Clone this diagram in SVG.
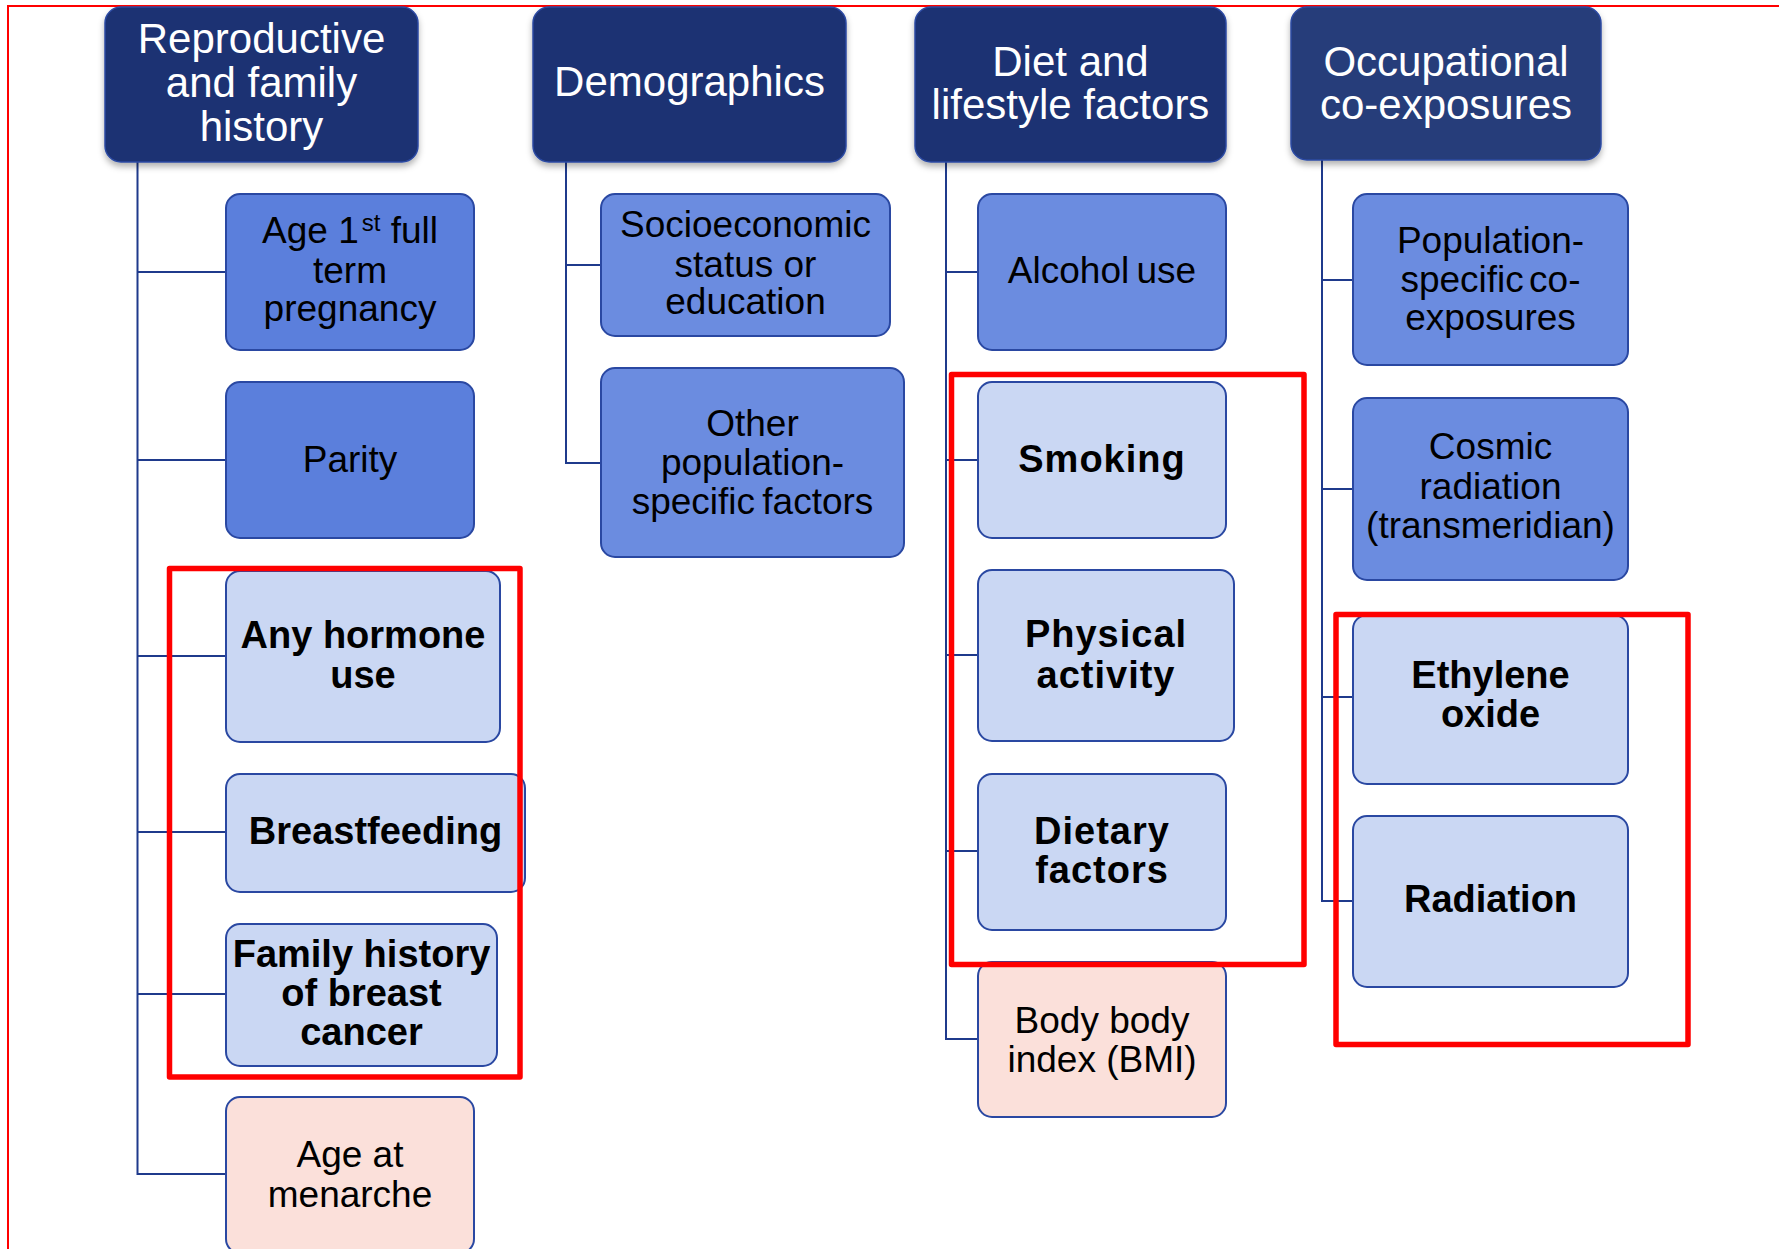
<svg xmlns="http://www.w3.org/2000/svg" width="1779" height="1249" viewBox="0 0 1779 1249">
  <style>
    text { font-family: "Liberation Sans", Arial, sans-serif; text-anchor: middle; }
    .hdr { fill: #1b3173; stroke: #2c4aa3; stroke-width: 1.5; }
    .hdr-alt { fill: #283d7a; stroke: #2c4aa3; stroke-width: 1.5; }
    .htxt { fill: #ffffff; font-size: 42px; }
    .node { stroke: #2a48a2; stroke-width: 2; }
    .mid-dk { fill: #5b7fdc; }
    .mid { fill: #6b8ce0; }
    .light { fill: #cad7f3; }
    .pink { fill: #fbe0da; }
    .ntxt { fill: #000000; font-size: 37px; }
    .btxt { fill: #000000; font-size: 38px; font-weight: bold; }
    .conn { fill: none; stroke: #1f3a8c; stroke-width: 2; }
    .hilite { fill: none; stroke: #ff0000; stroke-width: 5.5; stroke-linejoin: round; }
  </style>
  <defs>
    <filter id="shadow" x="-10%" y="-10%" width="120%" height="130%">
      <feDropShadow dx="0" dy="4" stdDeviation="3" flood-color="#000000" flood-opacity="0.3"/>
    </filter>
  </defs>

  <rect width="1779" height="1249" fill="#ffffff"/>
  <!-- outer frame -->
  <rect x="8" y="6" width="1800" height="1300" fill="none" stroke="#ff0000" stroke-width="2"/>

  <!-- connectors -->
  <g id="connectors">
    <path class="conn" d="M137.5 162 V1174 H226 M137.5 272 H226 M137.5 460 H226 M137.5 656 H226 M137.5 832 H226 M137.5 994 H226"/>
    <path class="conn" d="M566 162 V463 H601 M566 265 H601"/>
    <path class="conn" d="M946 162 V1039 H978 M946 272 H978 M946 460 H978 M946 655 H978 M946 851 H978"/>
    <path class="conn" d="M1322 160 V901 H1353 M1322 280 H1353 M1322 489 H1353 M1322 697 H1353"/>
  </g>

  <!-- category headers -->
  <g id="hdr-reproductive">
    <rect class="hdr" x="105" y="7" width="313" height="155" rx="16" filter="url(#shadow)"/>
    <text class="htxt"><tspan x="261.5" y="53">Reproductive</tspan><tspan x="261.5" y="97">and family</tspan><tspan x="261.5" y="141">history</tspan></text>
  </g>
  <g id="hdr-demographics">
    <rect class="hdr" x="533" y="7" width="313" height="155" rx="16" filter="url(#shadow)"/>
    <text class="htxt" x="689.5" y="96">Demographics</text>
  </g>
  <g id="hdr-diet">
    <rect class="hdr" x="915" y="7" width="311" height="155" rx="16" filter="url(#shadow)"/>
    <text class="htxt"><tspan x="1070.5" y="76">Diet and</tspan><tspan x="1070.5" y="119">lifestyle factors</tspan></text>
  </g>
  <g id="hdr-occupational">
    <rect class="hdr-alt" x="1291" y="7" width="310" height="153" rx="16" filter="url(#shadow)"/>
    <text class="htxt"><tspan x="1446" y="76">Occupational</tspan><tspan x="1446" y="119">co-exposures</tspan></text>
  </g>

  <!-- reproductive and family history -->
  <g id="n-age-first-pregnancy">
    <rect class="node mid-dk" x="226" y="194" width="248" height="156" rx="14"/>
    <text class="ntxt"><tspan x="350" y="243">Age 1<tspan font-size="24" dx="3" dy="-12">st</tspan><tspan dy="12"> full</tspan></tspan><tspan x="350" y="283">term</tspan><tspan x="350" y="321">pregnancy</tspan></text>
  </g>
  <g id="n-parity">
    <rect class="node mid-dk" x="226" y="382" width="248" height="156" rx="14"/>
    <text class="ntxt" x="350" y="472">Parity</text>
  </g>
  <g id="n-hormone-use">
    <rect class="node light" x="226" y="571" width="274" height="171" rx="14"/>
    <text class="btxt"><tspan x="363" y="648">Any hormone</tspan><tspan x="363" y="688">use</tspan></text>
  </g>
  <g id="n-breastfeeding">
    <rect class="node light" x="226" y="774" width="299" height="118" rx="14"/>
    <text class="btxt" x="375.5" y="844">Breastfeeding</text>
  </g>
  <g id="n-family-history">
    <rect class="node light" x="226" y="924" width="271" height="142" rx="14"/>
    <text class="btxt"><tspan x="361.5" y="967">Family history</tspan><tspan x="361.5" y="1006">of breast</tspan><tspan x="361.5" y="1045">cancer</tspan></text>
  </g>
  <g id="n-menarche">
    <rect class="node pink" x="226" y="1097" width="248" height="156" rx="14"/>
    <text class="ntxt"><tspan x="350" y="1167">Age at</tspan><tspan x="350" y="1207">menarche</tspan></text>
  </g>

  <!-- demographics -->
  <g id="n-socioeconomic">
    <rect class="node mid" x="601" y="194" width="289" height="142" rx="14"/>
    <text class="ntxt"><tspan x="745.5" y="237">Socioeconomic</tspan><tspan x="745.5" y="277">status or</tspan><tspan x="745.5" y="314">education</tspan></text>
  </g>
  <g id="n-other-population">
    <rect class="node mid" x="601" y="368" width="303" height="189" rx="14"/>
    <text class="ntxt"><tspan x="752.5" y="436">Other</tspan><tspan x="752.5" y="475">population-</tspan><tspan x="752.5" y="514" word-spacing="-3">specific factors</tspan></text>
  </g>

  <!-- diet and lifestyle -->
  <g id="n-alcohol">
    <rect class="node mid" x="978" y="194" width="248" height="156" rx="14"/>
    <text class="ntxt" x="1102" y="283" word-spacing="-3">Alcohol use</text>
  </g>
  <g id="n-smoking">
    <rect class="node light" x="978" y="382" width="248" height="156" rx="14"/>
    <text class="btxt" x="1102" y="472" letter-spacing="1">Smoking</text>
  </g>
  <g id="n-physical-activity">
    <rect class="node light" x="978" y="570" width="256" height="171" rx="14"/>
    <text class="btxt" letter-spacing="1"><tspan x="1106" y="647">Physical</tspan><tspan x="1106" y="688">activity</tspan></text>
  </g>
  <g id="n-dietary">
    <rect class="node light" x="978" y="774" width="248" height="156" rx="14"/>
    <text class="btxt" letter-spacing="1"><tspan x="1102" y="844">Dietary</tspan><tspan x="1102" y="883">factors</tspan></text>
  </g>
  <g id="n-bmi">
    <rect class="node pink" x="978" y="962" width="248" height="155" rx="14"/>
    <text class="ntxt"><tspan x="1102" y="1033">Body body</tspan><tspan x="1102" y="1072">index (BMI)</tspan></text>
  </g>

  <!-- occupational co-exposures -->
  <g id="n-population-coexposures">
    <rect class="node mid" x="1353" y="194" width="275" height="171" rx="14"/>
    <text class="ntxt"><tspan x="1490.5" y="253">Population-</tspan><tspan x="1490.5" y="292" word-spacing="-5">specific co-</tspan><tspan x="1490.5" y="330">exposures</tspan></text>
  </g>
  <g id="n-cosmic-radiation">
    <rect class="node mid" x="1353" y="398" width="275" height="182" rx="14"/>
    <text class="ntxt"><tspan x="1490.5" y="459">Cosmic</tspan><tspan x="1490.5" y="499">radiation</tspan><tspan x="1490.5" y="538">(transmeridian)</tspan></text>
  </g>
  <g id="n-ethylene-oxide">
    <rect class="node light" x="1353" y="615" width="275" height="169" rx="14"/>
    <text class="btxt"><tspan x="1490.5" y="688">Ethylene</tspan><tspan x="1490.5" y="727">oxide</tspan></text>
  </g>
  <g id="n-radiation">
    <rect class="node light" x="1353" y="816" width="275" height="171" rx="14"/>
    <text class="btxt" x="1490.5" y="912">Radiation</text>
  </g>

  <!-- highlight frames -->
  <g id="highlights">
    <rect class="hilite" x="169.5" y="568.5" width="350.5" height="508.5"/>
    <rect class="hilite" x="951.5" y="374.5" width="352.5" height="590"/>
    <rect class="hilite" x="1336" y="614.5" width="352" height="430"/>
  </g>
</svg>
